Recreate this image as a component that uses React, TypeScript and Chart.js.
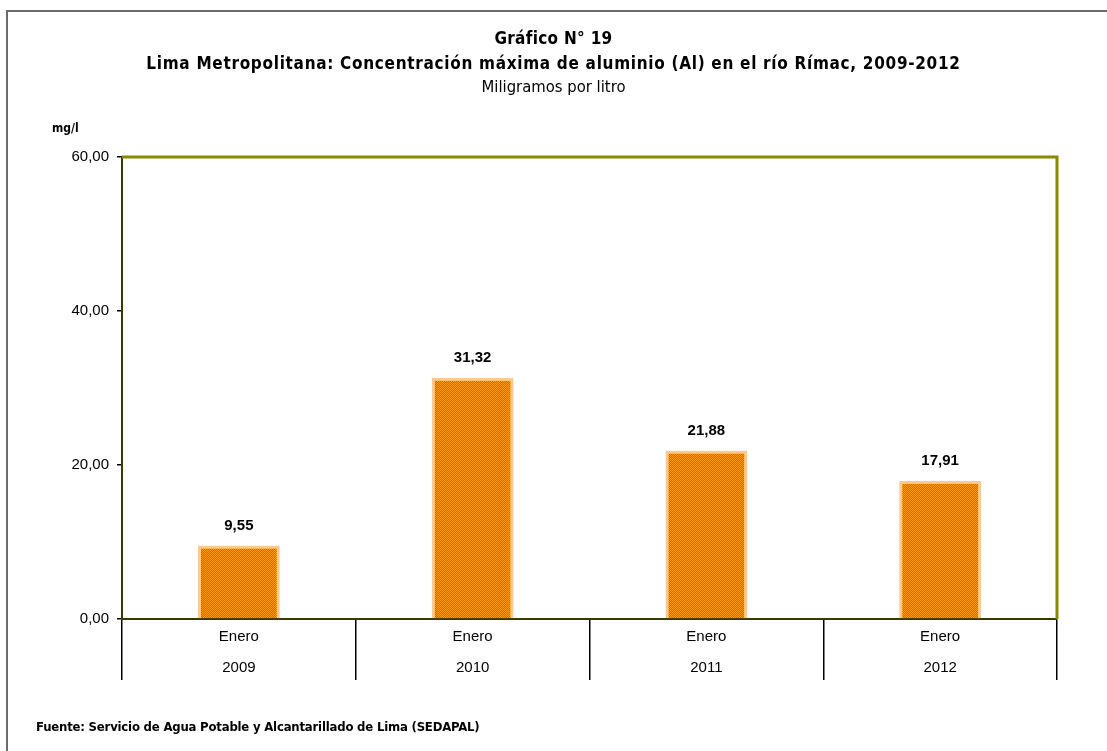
import React, { useEffect, useRef } from 'react';
import { Chart, registerables } from 'chart.js';

Chart.register(...registerables);

const months = ['Enero', 'Enero', 'Enero', 'Enero'];
const years = ['2009', '2010', '2011', '2012'];
const values = [9.55, 31.32, 21.88, 17.91];
const yMin = 0;
const yMax = 60;
const yStep = 20;

const FF = '"Liberation Sans Narrow", "Arial Narrow", "DejaVu Sans Condensed", Arial, sans-serif';
const FA = '"Liberation Sans", Arial, sans-serif';

const fmt = (v: number) => v.toFixed(2).replace('.', ',');

function makePattern(): CanvasPattern | string {
  const c = document.createElement('canvas');
  c.width = 2;
  c.height = 2;
  const g = c.getContext('2d');
  if (!g) return '#E88A00';
  g.fillStyle = '#FF9A00';
  g.fillRect(0, 0, 2, 2);
  g.fillStyle = '#C86800';
  g.fillRect(1, 0, 1, 1);
  g.fillRect(0, 1, 1, 1);
  const p = g.createPattern(c, 'repeat');
  return p || '#E88A00';
}

const framePlugin = {
  id: 'frameAndLabels',
  afterDatasetsDraw(chart: any) {
    const { ctx, chartArea } = chart;
    ctx.save();
    ctx.strokeStyle = '#8a8a00';
    ctx.lineWidth = 3;
    ctx.beginPath();
    ctx.moveTo(chartArea.left, chartArea.top);
    ctx.lineTo(chartArea.right, chartArea.top);
    ctx.lineTo(chartArea.right, chartArea.bottom);
    ctx.stroke();
    const meta = chart.getDatasetMeta(0);
    ctx.fillStyle = '#000';
    ctx.font = `bold 15px ${FA}`;
    ctx.textAlign = 'center';
    ctx.textBaseline = 'middle';
    meta.data.forEach((bar: any, i: number) => {
      ctx.fillText(fmt(values[i]), bar.x, bar.y - 20);
    });
    ctx.restore();
  },
};

export default function App() {
  const ref = useRef<HTMLCanvasElement>(null);

  useEffect(() => {
    if (!ref.current) return;
    const chart = new Chart(ref.current, {
      type: 'bar',
      data: {
        labels: months.map((m, i) => [m, years[i]]),
        datasets: [
          {
            data: values,
            backgroundColor: makePattern() as any,
            borderColor: '#FFC890',
            borderWidth: 3,
            borderSkipped: 'bottom',
            barPercentage: 0.35,
            categoryPercentage: 1,
          },
        ],
      },
      plugins: [framePlugin],
      options: {
        responsive: false,
        animation: false,
        devicePixelRatio: 1,
        layout: { padding: { top: 157, right: 50, left: 0, bottom: 0 } },
        plugins: {
          legend: { display: false },
          tooltip: { enabled: false },
          title: { display: false },
        },
        scales: {
          x: {
            type: 'category',
            afterFit: (s: any) => {
              s.height = 132;
            },
            border: { display: true, color: '#3a3a00', width: 2 },
            grid: {
              display: true,
              offset: true,
              drawOnChartArea: false,
              drawTicks: true,
              tickLength: 61,
              color: '#000',
              lineWidth: 1.5,
            },
            ticks: {
              color: '#000',
              font: { family: FA, size: 15, lineHeight: 2.05 },
              padding: -58.5,
              maxRotation: 0,
              autoSkip: false,
            },
          },
          y: {
            min: yMin,
            max: yMax,
            afterFit: (s: any) => {
              s.width = 122;
            },
            border: { display: true, color: '#3a3a00', width: 2 },
            grid: {
              display: true,
              drawOnChartArea: false,
              drawTicks: true,
              tickLength: 5,
              color: '#000',
              lineWidth: 1.5,
            },
            ticks: {
              stepSize: yStep,
              color: '#000',
              padding: 8,
              font: { family: FA, size: 15 },
              callback: (v: any) => fmt(Number(v)),
            },
          },
        },
      },
    });
    return () => chart.destroy();
  }, []);

  const text = (style: React.CSSProperties, content: string, bold = false) => (
    <div
      style={{
        position: 'absolute',
        fontFamily: FF,
        color: '#000',
        whiteSpace: 'nowrap',
        fontWeight: bold ? 'bold' : 'normal',
        ...style,
      }}
    >
      {content}
    </div>
  );

  return (
    <div
      style={{
        position: 'absolute',
        left: 0,
        top: 0,
        width: 1107,
        height: 751,
        background: '#fff',
        overflow: 'hidden',
      }}
    >
      <div
        style={{
          position: 'absolute',
          left: 6,
          top: 10,
          width: 1200,
          height: 900,
          borderTop: '2px solid #6b6b6b',
          borderLeft: '2px solid #6b6b6b',
        }}
      />
      <canvas ref={ref} width={1107} height={751} style={{ position: 'absolute', left: 0, top: 0, width: 1107, height: 751 }} />
      {text({ left: 0, width: 1107, top: 27, textAlign: 'center', fontSize: 17, lineHeight: '22px', letterSpacing: '0.3px' }, 'Gráfico N° 19', true)}
      {text(
        { left: 0, width: 1107, top: 52, textAlign: 'center', fontSize: 17, lineHeight: '22px', letterSpacing: '0.7px' },
        'Lima Metropolitana: Concentración máxima de aluminio (Al) en el río Rímac, 2009-2012',
        true
      )}
      {text({ left: 0, width: 1107, top: 76, textAlign: 'center', fontSize: 16.5, lineHeight: '22px' }, 'Miligramos por litro')}
      {text({ left: 52, top: 120, fontSize: 12, lineHeight: '16px' }, 'mg/l', true)}
      {text({ left: 36, top: 718, fontSize: 13, lineHeight: '18px', letterSpacing: '-0.2px' }, 'Fuente: Servicio de Agua Potable y Alcantarillado de Lima (SEDAPAL)', true)}
    </div>
  );
}
